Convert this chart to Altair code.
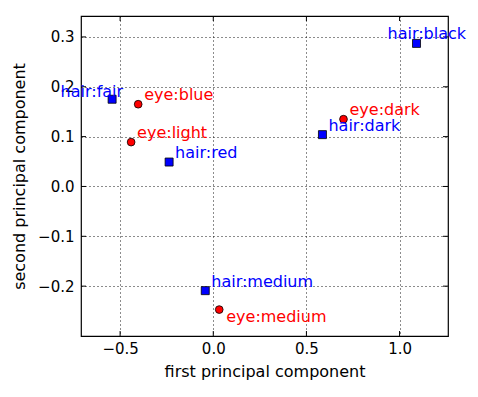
import altair as alt
import pandas as pd

labels = ["hair:fair", "hair:red", "hair:medium", "hair:dark", "hair:black",
          "eye:light", "eye:blue", "eye:medium", "eye:dark"]
pc1 = [-0.543, -0.237, -0.043, 0.586, 1.091, -0.441, -0.403, 0.032, 0.699]
pc2 = [0.175, 0.049, -0.209, 0.104, 0.287, 0.089, 0.165, -0.247, 0.135]
x_ticks = [-0.5, 0.0, 0.5, 1.0]
y_ticks = [-0.2, -0.1, 0.0, 0.1, 0.2, 0.3]

df = pd.DataFrame({"label": labels, "pc1": pc1, "pc2": pc2})
df["kind"] = df["label"].str.split(":").str[0]

W, H = 367, 320
FONT = "DejaVu Sans"
xs = alt.Scale(domain=[-0.71, 1.26], nice=False, zero=False)
ys = alt.Scale(domain=[-0.3, 0.342], nice=False, zero=False)

xax = alt.Axis(values=x_ticks, format=".1f", grid=True, gridColor="black",
               gridDash=[1, 3], gridWidth=1, gridOpacity=0.9, ticks=False,
               domain=False, labelPadding=5, labelFontSize=15, labelColor="black",
               labelFont=FONT, title="first principal component", titleFontSize=16,
               titleFont=FONT, titleFontWeight="normal", titleColor="black", titlePadding=7)
yax = alt.Axis(values=y_ticks, format=".1f", grid=True, gridColor="black",
               gridDash=[1, 3], gridWidth=1, gridOpacity=0.9, ticks=False,
               domain=False, labelPadding=7, labelFontSize=15, labelColor="black",
               labelFont=FONT, title="second principal component", titleFontSize=16,
               titleFont=FONT, titleFontWeight="normal", titleColor="black", titlePadding=10)

base = alt.Chart(df)

axes_layer = base.mark_point(opacity=0).encode(
    x=alt.X("pc1:Q", scale=xs, axis=xax),
    y=alt.Y("pc2:Q", scale=ys, axis=yax),
)

xt = pd.DataFrame({"t": x_ticks})
yt = pd.DataFrame({"t": y_ticks})
tick_bot = alt.Chart(xt).mark_rule(color="black").encode(
    x=alt.X("t:Q", scale=xs, axis=xax), y=alt.value(H), y2=alt.value(H - 5))
tick_top = alt.Chart(xt).mark_rule(color="black").encode(
    x=alt.X("t:Q", scale=xs, axis=xax), y=alt.value(0), y2=alt.value(5))
tick_left = alt.Chart(yt).mark_rule(color="black").encode(
    y=alt.Y("t:Q", scale=ys, axis=yax), x=alt.value(0), x2=alt.value(5))
tick_right = alt.Chart(yt).mark_rule(color="black").encode(
    y=alt.Y("t:Q", scale=ys, axis=yax), x=alt.value(W), x2=alt.value(W - 5))

hair_pts = base.transform_filter(alt.datum.kind == "hair").mark_square(
    size=64, color="#0000ff", opacity=1, stroke="black", strokeWidth=0.8).encode(
    x=alt.X("pc1:Q", scale=xs, axis=xax), y=alt.Y("pc2:Q", scale=ys, axis=yax))
eye_pts = base.transform_filter(alt.datum.kind == "eye").mark_circle(
    size=60, color="#ff0000", opacity=1, stroke="black", strokeWidth=0.8).encode(
    x=alt.X("pc1:Q", scale=xs, axis=xax), y=alt.Y("pc2:Q", scale=ys, axis=yax))

def text_layer(names, dx, dy, align, baseline="alphabetic"):
    return base.transform_filter(
        alt.FieldOneOfPredicate(field="label", oneOf=names)
    ).mark_text(dx=dx, dy=dy, align=align, baseline=baseline, fontSize=16, font=FONT).encode(
        x=alt.X("pc1:Q", scale=xs, axis=xax), y=alt.Y("pc2:Q", scale=ys, axis=yax),
        text="label:N",
        color=alt.Color("kind:N", scale=alt.Scale(domain=["hair", "eye"],
                                                  range=["#0000ff", "#ff0000"]), legend=None),
    )

t_main = text_layer(["hair:red", "hair:medium", "hair:dark", "eye:light", "eye:blue", "eye:dark"],
                    6, -4, "left")
t_fair = text_layer(["hair:fair"], 11, -2, "right")
t_black = text_layer(["hair:black"], -29, -4, "left")
t_med = text_layer(["eye:medium"], 7, 12, "left")

chart = alt.layer(
    axes_layer, tick_bot, tick_top, tick_left, tick_right,
    hair_pts, eye_pts, t_main, t_fair, t_black, t_med
).properties(
    width=W, height=H,
    autosize=alt.AutoSizeParams(type="none"),
    padding={"left": 73, "top": 8, "right": 22, "bottom": 46},
).configure_view(stroke="black", strokeWidth=1.2)

chart.save("out.html", embed_options={"renderer": "svg", "actions": False})
